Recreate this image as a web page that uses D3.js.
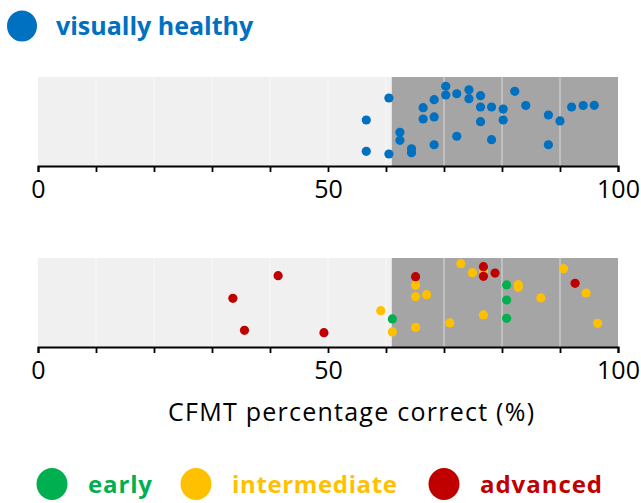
<!DOCTYPE html>
<html>
<head>
<meta charset="utf-8">
<script src="https://cdn.jsdelivr.net/npm/d3@7"></script>
<style>
  html, body { margin: 0; padding: 0; background: #fff; }
  svg { display: block; }
</style>
</head>
<body>
<svg id="chart" width="641" height="503"></svg>
<script>
// ---- data ----
const axisTicks = [0, 10, 20, 30, 40, 50, 60, 70, 80, 90, 100];
const axisTickLabels = ["0", "50", "100"];
const normalRangeStart = 61; // shaded (normal) region start, %

const healthyScores = [56.6, 56.6, 60.5, 60.5, 62.4, 62.4, 64.4, 64.4, 66.4, 66.4,
  68.3, 68.3, 68.3, 70.3, 70.3, 72.2, 72.2, 74.3, 74.3, 76.3, 76.3, 76.3, 78.2, 78.2,
  80.2, 80.2, 82.2, 84.1, 88.0, 88.0, 90.0, 92.0, 94.0, 95.9];
const healthyJitter = [0.517, 0.165, 0.764, 0.135, 0.379, 0.289, 0.194, 0.149, 0.655, 0.528,
  0.745, 0.551, 0.239, 0.896, 0.798, 0.812, 0.334, 0.857, 0.756, 0.790, 0.663, 0.498, 0.663, 0.296,
  0.640, 0.517, 0.839, 0.680, 0.573, 0.239, 0.506, 0.663, 0.680, 0.682];

const intermediateScores = [59.1, 61.1, 65.1, 65.1, 67.0, 65.1, 71.0, 72.9, 74.9, 76.8, 76.8, 82.8, 82.8, 86.7, 90.6, 94.5, 96.5];
const intermediateJitter = [0.408, 0.169, 0.693, 0.565, 0.588, 0.221, 0.270, 0.936, 0.835, 0.857, 0.360, 0.700, 0.670, 0.551, 0.880, 0.607, 0.266];

const earlyScores = [61.1, 80.8, 80.8, 80.8];
const earlyJitter = [0.315, 0.697, 0.528, 0.322];

const advancedScores = [33.6, 35.6, 41.4, 49.3, 65.1, 76.8, 76.8, 78.8, 92.6];
const advancedJitter = [0.547, 0.187, 0.801, 0.161, 0.790, 0.902, 0.794, 0.831, 0.715];

const titleLabel = "visually healthy";
const axisTitle = "CFMT percentage correct (%)";
const legendLabels = ["early", "intermediate", "advanced"];
const legendColors = ["#00B050", "#FFC000", "#C00000"];
const healthyColor = "#0070C0";

// ---- layout ----
const svg = d3.select("#chart");
const FONT = "'Open Sans', 'DejaVu Sans', sans-serif";
const x = d3.scaleLinear().domain([0, 100]).range([38, 618]);
const panels = [
  { top: 77, bottom: 166 },
  { top: 258, bottom: 347 }
];

function drawPanel(p, series) {
  const y = d3.scaleLinear().domain([0, 1]).range([p.bottom, p.top]);
  const g = svg.append("g");
  g.append("rect").attr("x", x(0)).attr("y", p.top)
    .attr("width", x(100) - x(0)).attr("height", p.bottom - p.top)
    .attr("fill", "#F0F0F0");
  g.append("rect").attr("x", x(normalRangeStart)).attr("y", p.top)
    .attr("width", x(100) - x(normalRangeStart)).attr("height", p.bottom - p.top)
    .attr("fill", "#A5A5A5");
  g.selectAll("line.grid").data(axisTicks.slice(1, -1)).enter().append("line")
    .attr("class", "grid")
    .attr("x1", d => x(d)).attr("x2", d => x(d))
    .attr("y1", p.top).attr("y2", p.bottom)
    .attr("stroke", "#ffffff").attr("stroke-opacity", 0.6).attr("stroke-width", 1);

  series.forEach(s => {
    g.append("g").selectAll("circle").data(s.scores).enter().append("circle")
      .attr("cx", d => x(d))
      .attr("cy", (d, i) => y(s.jitter[i]))
      .attr("r", 4.6)
      .attr("fill", s.color);
  });

  const axis = d3.axisBottom(x).tickValues(axisTicks)
    .tickSize(6).tickSizeOuter(6).tickPadding(8)
    .tickFormat(d => axisTickLabels.includes(String(d)) ? String(d) : "");
  const ag = g.append("g").attr("transform", `translate(0,${p.bottom})`).call(axis);
  ag.select(".domain").attr("stroke", "#000").attr("stroke-width", 2);
  ag.selectAll(".tick line").attr("stroke", "#000").attr("stroke-width", 1.8);
  ag.selectAll(".tick text").attr("font-family", FONT).attr("font-size", 25).attr("fill", "#000");
}

drawPanel(panels[0], [{ scores: healthyScores, jitter: healthyJitter, color: healthyColor }]);
drawPanel(panels[1], [
  { scores: intermediateScores, jitter: intermediateJitter, color: legendColors[1] },
  { scores: earlyScores, jitter: earlyJitter, color: legendColors[0] },
  { scores: advancedScores, jitter: advancedJitter, color: legendColors[2] }
]);

// title
svg.append("ellipse").attr("cx", 22).attr("cy", 26).attr("rx", 15).attr("ry", 15.5).attr("fill", healthyColor);
svg.append("text").attr("x", 56).attr("y", 35).text(titleLabel)
  .attr("font-family", FONT).attr("font-weight", "bold").attr("font-size", 25)
  .attr("fill", healthyColor);

// axis title
svg.append("text").attr("x", 168).attr("y", 421)
  .text(axisTitle).attr("font-family", FONT).attr("font-size", 25)
  .attr("textLength", 366).attr("lengthAdjust", "spacing")
  .attr("fill", "#000");

// legend
const legendCircleX = [52, 196, 444];
const legendTextX = [88, 232, 480];
const legendTextW = [64, 165, 122];
legendLabels.forEach((lab, i) => {
  svg.append("ellipse").attr("cx", legendCircleX[i]).attr("cy", 484)
    .attr("rx", 15.5).attr("ry", 16).attr("fill", legendColors[i]);
  svg.append("text").attr("x", legendTextX[i]).attr("y", 493).text(lab)
    .attr("font-family", FONT).attr("font-weight", "bold").attr("font-size", 24)
    .attr("textLength", legendTextW[i]).attr("lengthAdjust", "spacing")
    .attr("fill", legendColors[i]);
});
</script>
</body>
</html>
